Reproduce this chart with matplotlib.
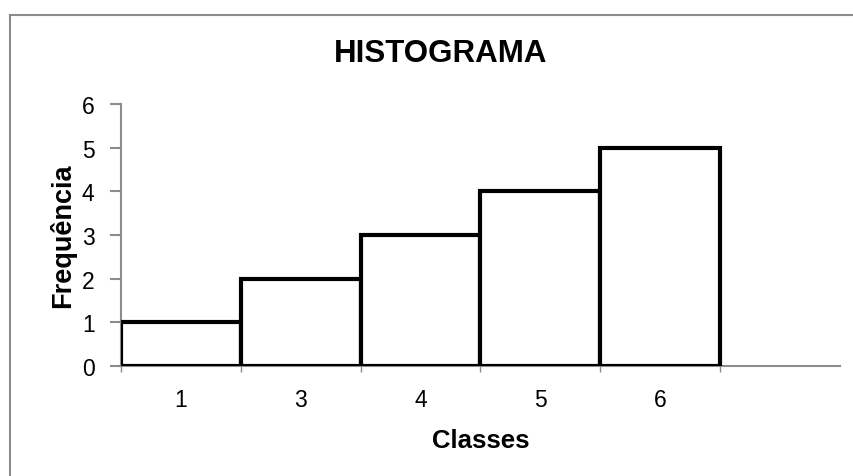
import numpy as np
import matplotlib.pyplot as plt
from matplotlib.lines import Line2D

plt.rcParams['font.family'] = ['Liberation Sans', 'DejaVu Sans']

classes = ['1', '3', '4', '5', '6', '']
frequencia = [1, 2, 3, 4, 5]

fig = plt.figure(figsize=(8.54, 4.77), dpi=100)
ax = fig.add_axes([121/854, 1 - 367/477, (840 - 121)/854, (367 - 105)/477])

pos = np.arange(len(classes))
ax.bar(pos[:len(frequencia)], frequencia, width=1.0, color='white',
       edgecolor='black', linewidth=3, zorder=3)

ax.set_xlim(-0.5, len(classes) - 0.5)
ax.set_ylim(0, 6)
ax.set_yticks(range(0, 7))

# marcas nos limites das classes, rótulos no centro
ax.set_xticks(np.arange(-0.5, len(classes) - 1), labels=[])
ax.set_xticks(pos, labels=classes, minor=True)
ax.tick_params(axis='x', which='major', direction='out', length=4,
               color='#8c8c8c', width=1)
ax.tick_params(axis='x', which='minor', length=0, pad=16, labelsize=16.5)
ax.tick_params(axis='y', direction='out', length=8, color='#8c8c8c',
               width=1.5, pad=11, labelsize=16.5)

for s in ['top', 'right']:
    ax.spines[s].set_visible(False)
for s in ['left', 'bottom']:
    ax.spines[s].set_color('#8c8c8c')
    ax.spines[s].set_linewidth(1.5)

ax.set_xlabel('Classes', fontsize=18.5, fontweight='bold', labelpad=12)
ax.set_ylabel('Frequência', fontsize=19.5, fontweight='bold', labelpad=4)

fig.text(441/854, 1 - 54/477, 'HISTOGRAMA', fontsize=22.5,
         fontweight='bold', ha='center', va='center')

# borda da área do gráfico
fig.add_artist(Line2D([10.5/854, 1], [1 - 15.5/477] * 2,
                      transform=fig.transFigure, color='#8c8c8c', lw=1.5))
fig.add_artist(Line2D([10.5/854] * 2, [0, 1 - 15.5/477],
                      transform=fig.transFigure, color='#8c8c8c', lw=1.5))

fig.savefig('out.png', dpi=100)
